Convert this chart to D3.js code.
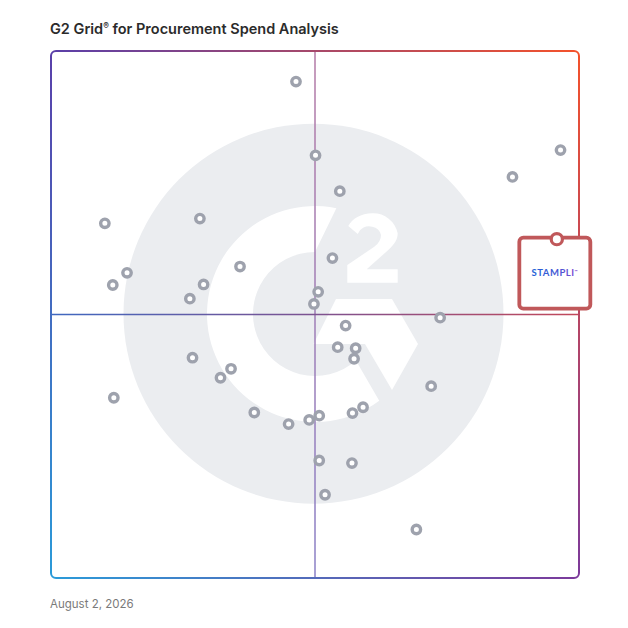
<!DOCTYPE html>
<html><head><meta charset="utf-8">
<script src="https://cdn.jsdelivr.net/npm/d3@7"></script>
<style>html,body{margin:0;padding:0;background:#fff}svg{display:block}</style>
</head><body>
<script>
// ---- data ----
const chartTitle = "G2 Grid";
const chartTitleRest = " for Procurement Spend Analysis";
const dateLabel = "August 2, 2026";
// products: x = market presence / satisfaction (0-100), y = (0-100)
const productX = [46.4, 50.1, 54.7, 87.4, 96.5, 10.2, 28.2, 35.8, 53.3, 14.4, 11.7, 28.9, 26.3, 50.6, 49.8, 73.7, 55.8, 54.3, 57.7, 57.4, 26.8, 34.1, 32.1, 72.0, 11.9, 38.5, 45.0, 48.9, 50.8, 57.1, 59.1, 50.8, 57.0, 51.9, 69.2];
const productY = [94.2, 80.2, 73.4, 76.1, 81.2, 67.3, 68.2, 59.1, 60.7, 57.9, 55.6, 55.7, 53.0, 54.3, 52.0, 49.4, 47.9, 43.8, 43.6, 41.6, 41.8, 39.7, 38.0, 36.4, 34.2, 31.4, 29.2, 30.0, 30.8, 31.3, 32.4, 22.3, 21.8, 15.8, 9.2];
const featuredName = ["STAMPLI"];
const featuredX = [95.8];
const featuredY = [64.3];

const W = 628, H = 628;
const svg = d3.select("body").append("svg").attr("width", W).attr("height", H);
const x = d3.scaleLinear().domain([0, 100]).range([51, 579]);
const y = d3.scaleLinear().domain([0, 100]).range([578, 51]);
const X0 = x(0), X1 = x(100), Y0 = y(100), Y1 = y(0);
const cx = x(50), cy = y(50);

const defs = svg.append("defs");
function lin(id, x1, y1, x2, y2, stops, units) {
  const g = defs.append("linearGradient").attr("id", id).attr("gradientUnits", units || "userSpaceOnUse")
    .attr("x1", x1).attr("y1", y1).attr("x2", x2).attr("y2", y2);
  stops.forEach(s => g.append("stop").attr("offset", s[0]).attr("stop-color", s[1]));
}
lin("gTop", X0, 0, X1, 0, [[0, "#5a3fa9"], [1, "#f4522b"]]);
lin("gBot", X0, 0, X1, 0, [[0, "#2b9bd9"], [1, "#7c3a9b"]]);
lin("gFade", 0, Y0, 0, Y1, [[0, "#fff"], [1, "#000"]]);
lin("gVert", 0, Y0, 0, Y1, [[0, "#b47aa6"], [1, "#8a80c6"]]);
lin("gHorz", X0, 0, X1, 0, [[0, "#3f68c0"], [0.5, "#7d5290"], [1, "#c2485a"]]);
lin("gStampli", 0, 0, 1, 0, [[0, "#1f62d6"], [0.6, "#4a56d4"], [1, "#8447d2"]], "objectBoundingBox");

const mFade = defs.append("mask").attr("id", "mFade").attr("maskUnits", "userSpaceOnUse")
  .attr("x", 0).attr("y", 0).attr("width", W).attr("height", H);
mFade.append("rect").attr("x", 0).attr("y", 0).attr("width", W).attr("height", H).attr("fill", "url(#gFade)");
const mFrame = defs.append("mask").attr("id", "mFrame").attr("maskUnits", "userSpaceOnUse")
  .attr("x", 0).attr("y", 0).attr("width", W).attr("height", H);
mFrame.append("rect").attr("x", X0).attr("y", Y0).attr("width", X1 - X0).attr("height", Y1 - Y0)
  .attr("rx", 5).attr("fill", "none").attr("stroke", "#fff").attr("stroke-width", 2);

// ---- watermark (G2 logo) ----
const wm = svg.append("g");
wm.append("circle").attr("cx", cx - 1.5).attr("cy", cy - 0.8).attr("r", 190).attr("fill", "#ebedf0");
const lg = wm.append("g").attr("transform", `translate(${cx},${cy - 0.5})`).attr("fill", "#fff");
const R = 108, r = 62;
const pt = (rad, deg) => [rad * Math.sin(deg * Math.PI / 180), -rad * Math.cos(deg * Math.PI / 180)];
const o1 = pt(R, 11.4), o2 = pt(R, 143.5), i1 = pt(r, 138.7), i2 = pt(r, 360);
lg.append("path").attr("d",
  `M${o1} A${R},${R} 0 1 0 ${o2} L${i1} A${r},${r} 0 1 1 ${i2} Z`);
lg.append("path").attr("d", "M21,-15 L77,-15 L103,30 L77,76 L50,30 L-1.5,30 Z");
lg.append("path").attr("d",
  "M32.3,-31.3 L82.7,-31.3 L82.7,-44.7 L51.7,-44.7 L73.3,-64 C80,-70 82.7,-75 82.7,-80.7 " +
  "A25,25 0 0 0 57.3,-100.7 C46,-100.7 37,-95 33.3,-88 L42.7,-80 " +
  "A12,12 0 0 1 57.3,-87.3 A11,11 0 0 1 66,-79 Q66,-72 59.3,-67.3 L32.3,-49 Z");

// ---- quadrant lines ----
svg.append("line").attr("x1", cx).attr("x2", cx).attr("y1", Y0).attr("y2", Y1)
  .attr("stroke", "url(#gVert)").attr("stroke-width", 1.5);
svg.append("line").attr("x1", X0).attr("x2", X1).attr("y1", cy).attr("y2", cy)
  .attr("stroke", "url(#gHorz)").attr("stroke-width", 1.6);

// ---- frame with 4-corner gradient ----
const fr = svg.append("g").attr("mask", "url(#mFrame)");
fr.append("rect").attr("x", 0).attr("y", 0).attr("width", W).attr("height", H).attr("fill", "url(#gBot)");
fr.append("rect").attr("x", 0).attr("y", 0).attr("width", W).attr("height", H).attr("fill", "url(#gTop)").attr("mask", "url(#mFade)");

// ---- product points ----
svg.append("g").selectAll("circle").data(d3.range(productX.length)).join("circle")
  .attr("cx", i => x(productX[i])).attr("cy", i => y(productY[i])).attr("r", 4.2)
  .attr("fill", "#fff").attr("stroke", "#9ea2ad").attr("stroke-width", 3.4);

// ---- featured product ----
const fg = svg.append("g");
featuredName.forEach((name, i) => {
  const px = x(featuredX[i]), py = y(featuredY[i]);
  fg.append("rect").attr("x", px - 37.5).attr("y", py - 1.5).attr("width", 71).attr("height", 71)
    .attr("rx", 4).attr("fill", "#fff").attr("stroke", "#c0585a").attr("stroke-width", 3.8);
  fg.append("circle").attr("cx", px).attr("cy", py).attr("r", 5.6)
    .attr("fill", "#fff").attr("stroke", "#c0585a").attr("stroke-width", 3.2);
  const t = fg.append("text").attr("x", px - 2).attr("y", py + 37)
    .attr("text-anchor", "middle").attr("font-family", "Lato, 'Open Sans', sans-serif")
    .attr("font-size", 9.5).attr("font-weight", 700).attr("letter-spacing", 0.5)
    .attr("fill", "url(#gStampli)");
  t.append("tspan").text(name);
  t.append("tspan").attr("font-size", 4).attr("dy", -3).text("™");
});

// ---- title & date ----
const tt = svg.append("text").attr("x", 50).attr("y", 34)
  .attr("font-family", "Inter, 'Open Sans', sans-serif").attr("font-size", 14.5)
  .attr("font-weight", 600).attr("fill", "#2b2b2b");
tt.append("tspan").text(chartTitle);
tt.append("tspan").attr("font-size", 8.5).attr("dy", -5).text("®");
tt.append("tspan").attr("dy", 5).text(chartTitleRest);

svg.append("text").attr("x", 50).attr("y", 608)
  .attr("font-family", "Inter, 'Open Sans', sans-serif").attr("font-size", 11.5)
  .attr("fill", "#7a7a7a").text(dateLabel);
</script>
</body></html>
